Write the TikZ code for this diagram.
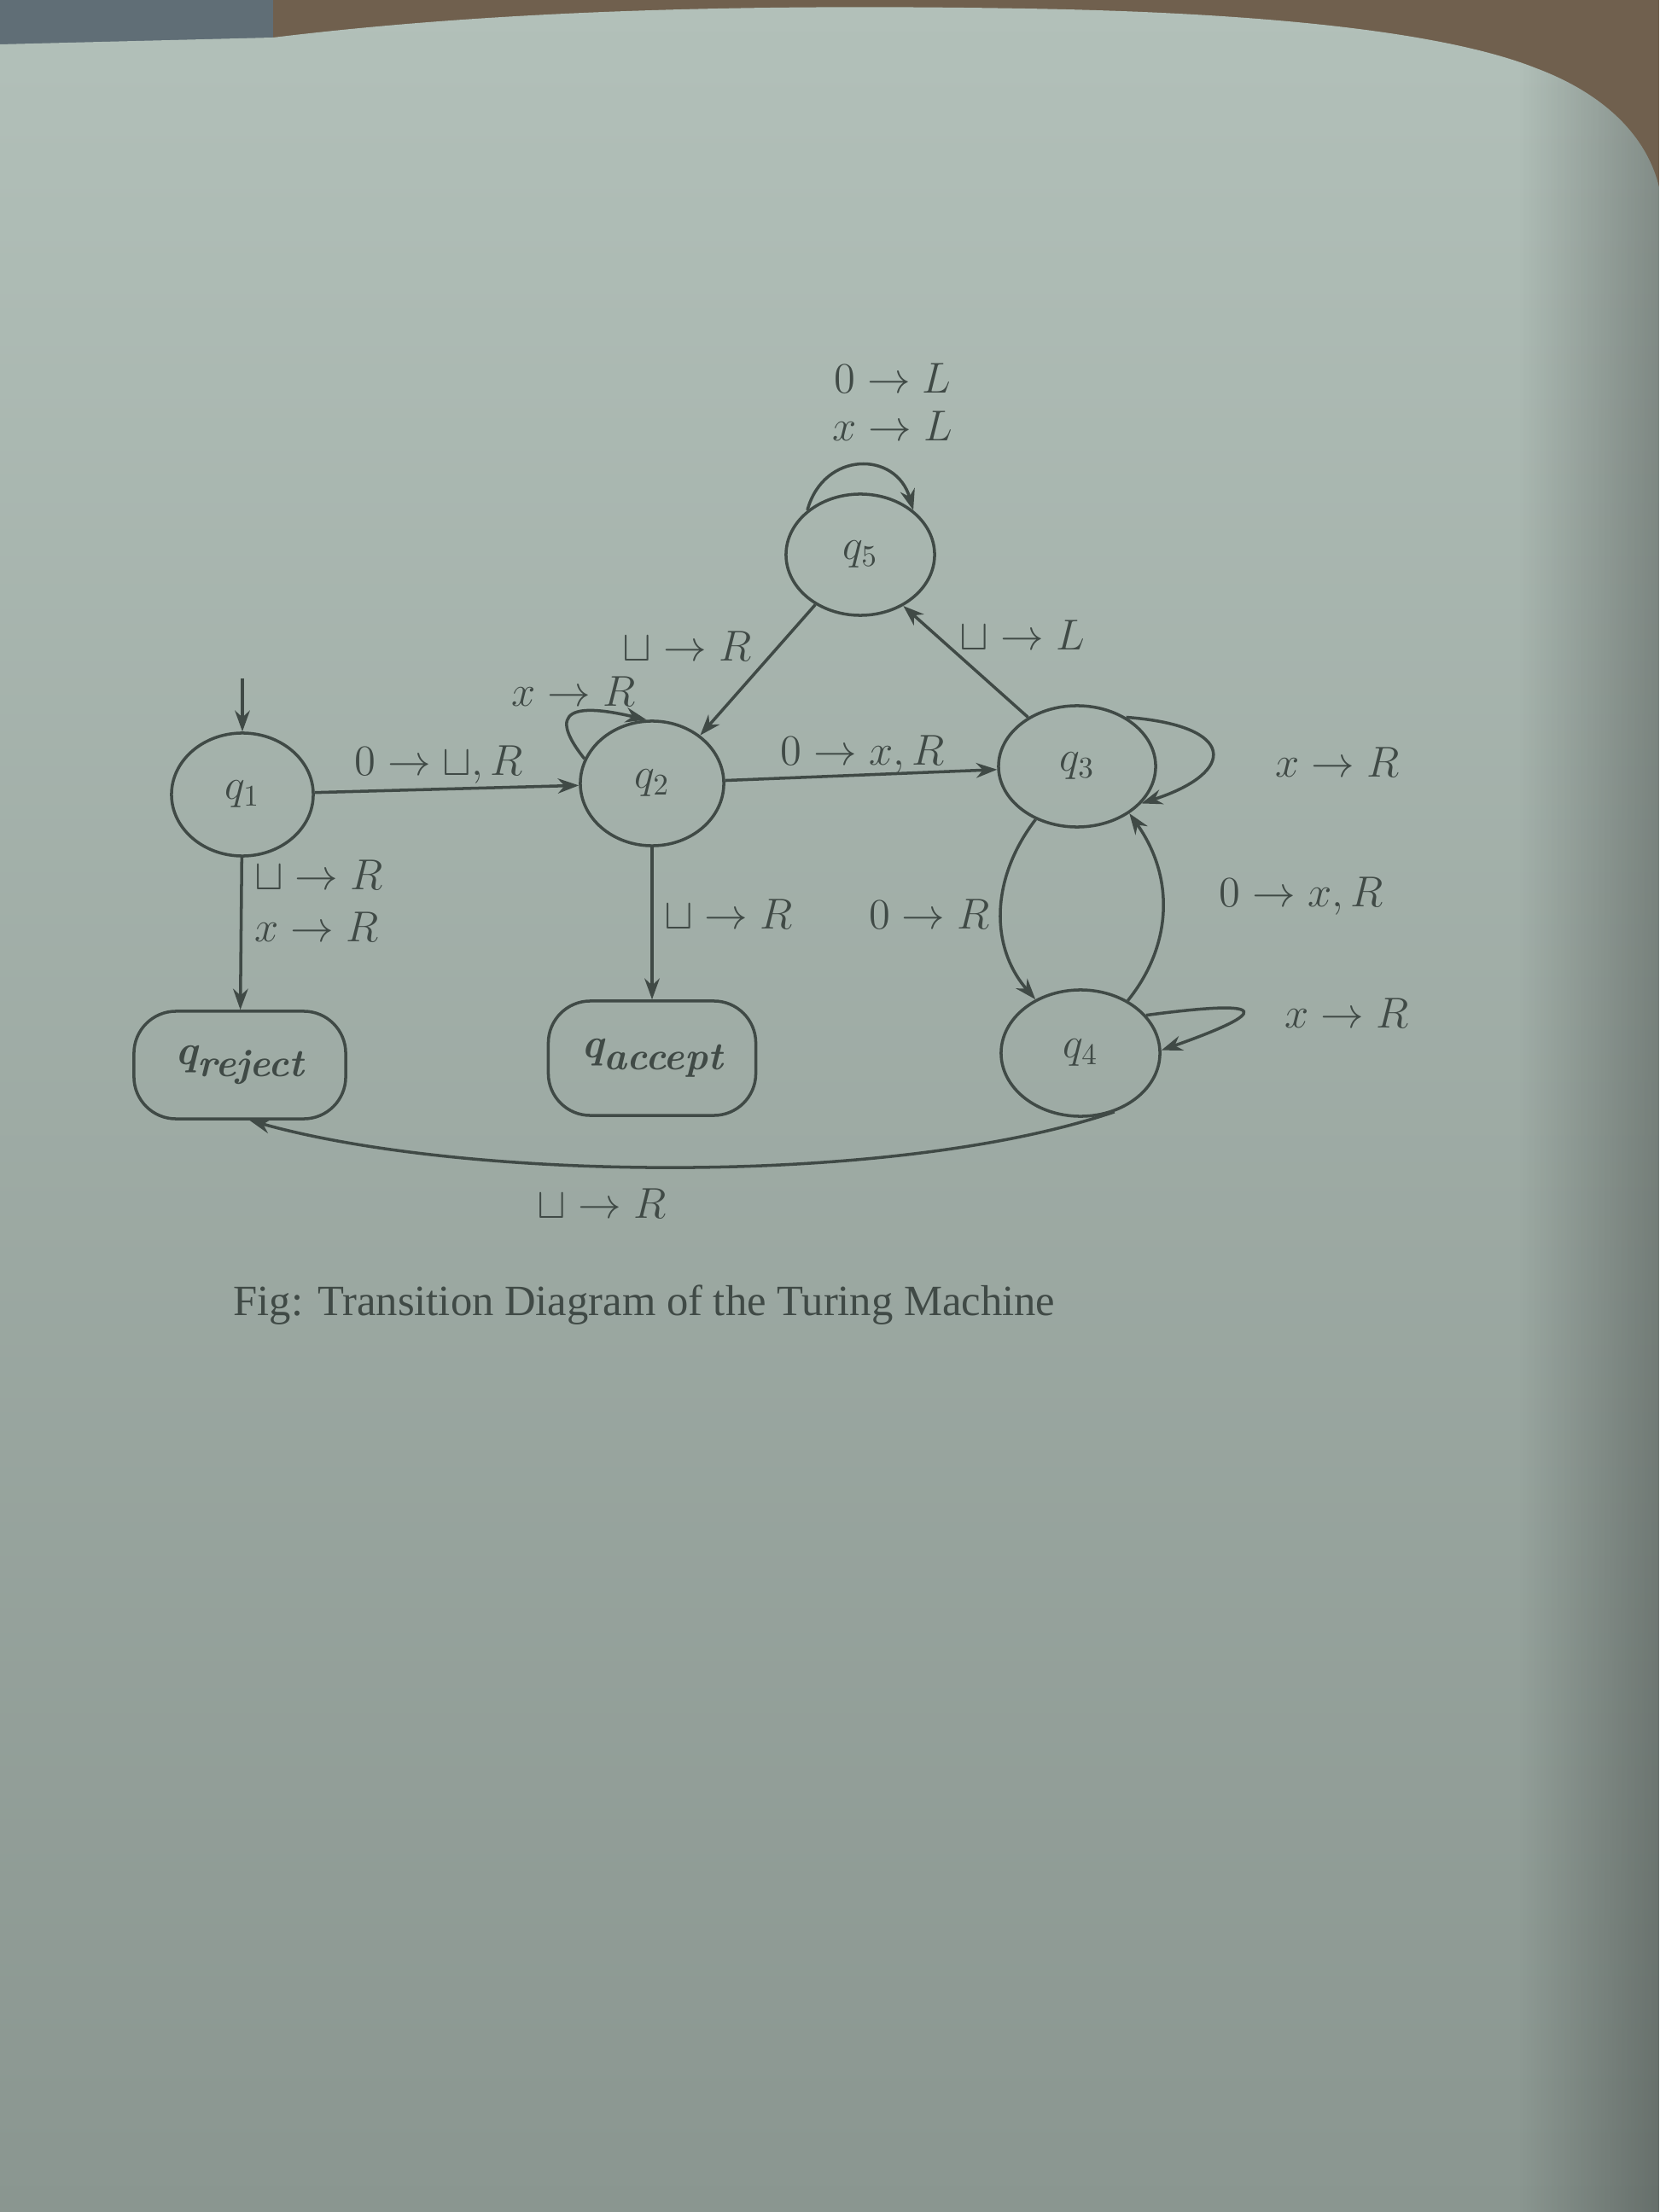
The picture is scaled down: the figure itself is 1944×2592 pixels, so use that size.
\documentclass[tikz,border=0pt]{standalone}
\usepackage{amsmath,amssymb}
\usepackage{fontspec}
\newfontfamily\capfont{Liberation Serif}
\usetikzlibrary{shapes.geometric,arrows.meta,fadings}
\definecolor{paperT}{RGB}{178,192,185}
\definecolor{paperB}{RGB}{138,150,144}
\definecolor{ink}{RGB}{64,74,70}
\definecolor{bgbrown}{RGB}{112,96,78}
\definecolor{bluegray}{RGB}{96,110,118}
\tikzfading[name=fadeR, left color=transparent!100, right color=transparent!0]
\newcommand{\qname}[1]{{\bfseries\itshape q}\raisebox{-4pt}{\fontsize{13}{15}\selectfont\bfseries\itshape #1}}
\begin{document}
\begin{tikzpicture}[x=0.01cm,y=-0.01cm,
  stt/.style={draw=ink, shape=ellipse, line width=1pt, text=ink, inner sep=0pt,
    font=\fontsize{14}{16}\selectfont},
  finbox/.style={draw=ink, shape=rectangle, line width=1pt, text=ink,
    inner sep=0pt, font=\fontsize{14}{16}\selectfont},
  lbl/.style={text=ink, inner sep=1pt, font=\fontsize{14.5}{17}\selectfont},
  arr/.style={draw=ink, line width=1pt, -{Stealth[length=7pt,width=5pt]}},
  capt/.style={text=ink, inner sep=0pt, font=\capfont\fontsize{14.4}{17}\selectfont}]
\useasboundingbox (0,0) rectangle (1944,2592);
% page / photo background
\fill[bgbrown] (0,0) rectangle (1944,2592);
\fill[bluegray] (0,0) rectangle (320,52);
\shade[top color=paperT, bottom color=paperB]
  (0,52) -- (320,44) .. controls (600,10) and (900,5) .. (1200,10)
  .. controls (1500,15) and (1700,40) .. (1800,80)
  .. controls (1880,110) and (1930,160) .. (1944,220)
  -- (1944,2592) -- (0,2592) -- cycle;
\begin{scope}
  \clip (0,52) -- (320,44) .. controls (600,10) and (900,5) .. (1200,10)
  .. controls (1500,15) and (1700,40) .. (1800,80)
  .. controls (1880,110) and (1930,160) .. (1944,220)
  -- (1944,2592) -- (0,2592) -- cycle;
  \fill[black, opacity=0.26, path fading=fadeR] (1780,0) rectangle (1944,2592);
\end{scope}

% states
\node[stt, minimum width=1.66cm, minimum height=1.44cm] (q1) at (284,931) {$q_1$};
\node[stt, minimum width=1.68cm, minimum height=1.46cm] (q2) at (764,918) {$q_2$};
\node[stt, minimum width=1.84cm, minimum height=1.42cm] (q3) at (1262,898) {$q_3$};
\node[stt, minimum width=1.74cm, minimum height=1.42cm] (q5) at (1008,650) {$q_5$};
\node[stt, minimum width=1.86cm, minimum height=1.48cm] (q4) at (1266,1234) {$q_4$};
\node[finbox, rounded corners=14pt, minimum width=2.48cm, minimum height=1.26cm] (qrej) at (281,1248) {\qname{reject}};
\node[finbox, rounded corners=14pt, minimum width=2.43cm, minimum height=1.34cm] (qacc) at (764,1240) {\qname{accept}};

% start arrow
\coordinate (s0) at (284,795);
\draw[arr] (s0) -- (q1);

% straight transitions
\draw[arr] (q1) -- (q2);
\draw[arr] (q2) -- (q3);
\draw[arr] (q1) -- (qrej);
\draw[arr] (q2) -- (qacc);
\draw[arr] (q5.228) -- (q2.45);
\draw[arr] (q3.135) -- (q5.-50);

% loops
\draw[arr] (q5.140) .. controls (965,528) and (1050,528) .. (q5.40);
\draw[arr] (q2.160) .. controls (628,818) and (700,830) .. (q2.95);
\draw[arr] (q3.45) .. controls (1450,850) and (1450,905) .. (q3.-30);
\draw[arr] (q4.30) .. controls (1490,1170) and (1490,1185) .. (q4.2);

% q3 <-> q4
\draw[arr] (q3.232) .. controls (1160,1030) and (1160,1110) .. (q4.130);
\draw[arr] (q4.48) .. controls (1372,1110) and (1378,1030) .. (q3.-42);

% q4 -> qreject
\draw[arr] (q4.-60) .. controls (1050,1390) and (550,1385) .. (qrej.-80);

% labels
\node[lbl] (l5a) at (1046,443) {$0\rightarrow L$};
\node[lbl] (l5b) at (1046,499) {$x\rightarrow L$};
\node[lbl] (l52) at (805,757) {$\sqcup\rightarrow R$};
\node[lbl] (l22) at (672,810) {$x\rightarrow R$};
\node[lbl] (l12) at (514,896) {$0\rightarrow\sqcup, R$};
\node[lbl] (l23) at (1011,884) {$0\rightarrow x, R$};
\node[lbl] (l35) at (1198,744) {$\sqcup\rightarrow L$};
\node[lbl] (l33) at (1567,893) {$x\rightarrow R$};
\node[lbl, anchor=west] (l1ra) at (294,1025) {$\sqcup\rightarrow R$};
\node[lbl, anchor=west] (l1rb) at (294,1086) {$x\rightarrow R$};
\node[lbl, anchor=west] (l2a) at (774,1071) {$\sqcup\rightarrow R$};
\node[lbl, anchor=east] (l34) at (1164,1071) {$0\rightarrow R$};
\node[lbl] (l43) at (1525,1050) {$0\rightarrow x, R$};
\node[lbl] (l44) at (1578,1187) {$x\rightarrow R$};
\node[lbl] (l4r) at (705,1410) {$\sqcup\rightarrow R$};

% caption
\node[capt] (cap) at (755,1529) {Fig: Transition Diagram of the Turing Machine};
\end{tikzpicture}
\end{document}
